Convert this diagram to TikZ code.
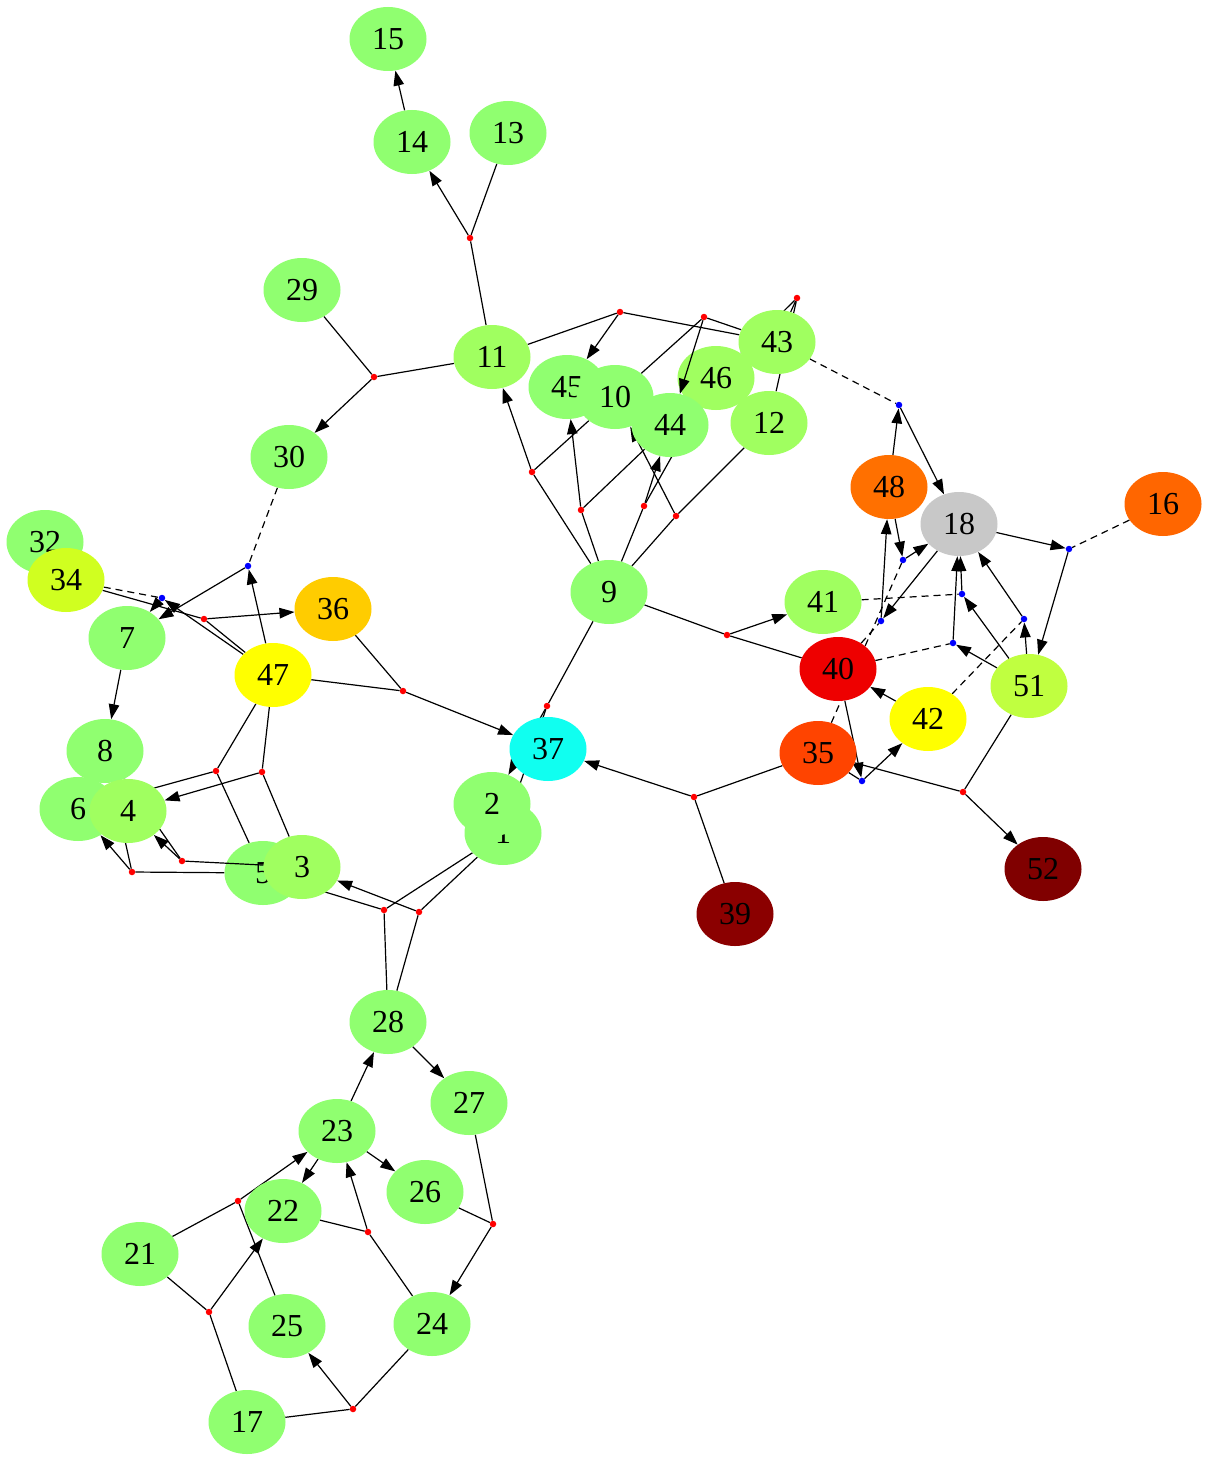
\documentclass[tikz,border=0pt]{standalone}
\usepackage{fontspec}
\setmainfont{Liberation Serif}
\usetikzlibrary{shapes.geometric,arrows.meta}
\pgfdeclarelayer{bgfill}
\pgfdeclarelayer{edges}
\pgfsetlayers{bgfill,edges,main}
\definecolor{cg}{RGB}{144,255,112}
\definecolor{cy}{RGB}{160,255,96}
\definecolor{cfiftyone}{RGB}{192,255,64}
\definecolor{cthirtyfour}{RGB}{208,255,32}
\definecolor{cyel}{RGB}{255,255,0}
\definecolor{cthirtysix}{RGB}{255,204,0}
\definecolor{cfortyeight}{RGB}{255,112,0}
\definecolor{csixteen}{RGB}{255,102,0}
\definecolor{cthirtyfive}{RGB}{255,68,0}
\definecolor{cforty}{RGB}{238,0,0}
\definecolor{cfiftytwo}{RGB}{128,0,0}
\definecolor{cthirtynine}{RGB}{139,0,0}
\definecolor{ceighteen}{RGB}{200,200,200}
\definecolor{cthirtyseven}{RGB}{16,255,240}
\definecolor{jred}{RGB}{255,0,0}
\definecolor{jblue}{RGB}{0,0,255}
\begin{document}
\begin{tikzpicture}[x=1pt,y=-1pt,
 nd/.style={ellipse,minimum width=77pt,minimum height=64pt,inner sep=0pt,fill=#1,font=\fontsize{32}{32}\selectfont},
 rj/.style={circle,fill=jred,inner sep=0pt,minimum size=6.5pt},
 bj/.style={circle,fill=jblue,inner sep=0pt,minimum size=6.5pt},
 ed/.style={line width=1.2pt},
 ar/.style={ed,-{Triangle[length=15pt,width=10.5pt]}},
 dsh/.style={ed,dash pattern=on 7pt off 5pt}]
\begin{pgfonlayer}{bgfill}
\fill[white] (0,0) rectangle (1209,1461);
\end{pgfonlayer}
\useasboundingbox (0,0) rectangle (1209,1461);
% nodes
\node[nd=cg] (n15) at (388,39) {15};
\node[nd=cg] (n14) at (412,142) {14};
\node[nd=cg] (n13) at (508,133) {13};
\node[nd=cg] (n29) at (302,290) {29};
\node[nd=cy] (n11) at (492,357) {11};
\node[nd=cg] (n45) at (567,387) {45};
\node[nd=cg] (n10) at (615,397) {10};
\node[nd=cy] (n46) at (716,378) {46};
\node[nd=cg] (n44) at (670,425) {44};
\node[nd=cy] (n43) at (777,342) {43};
\node[nd=cy] (n12) at (769,423) {12};
\node[nd=cg] (n30) at (289,457) {30};
\node[nd=cfortyeight] (n48) at (889,487) {48};
\node[nd=ceighteen] (n18) at (959,524) {18};
\node[nd=csixteen] (n16) at (1163,504) {16};
\node[nd=cg] (n32) at (45,542) {32};
\node[nd=cthirtyfour] (n34) at (66,580) {34};
\node[nd=cg] (n7) at (127,638) {7};
\node[nd=cthirtysix] (n36) at (333,609) {36};
\node[nd=cg] (n9) at (609,592) {9};
\node[nd=cy] (n41) at (823,602) {41};
\node[nd=cyel] (n47) at (273,675) {47};
\node[nd=cforty] (n40) at (838,669) {40};
\node[nd=cfiftyone] (n51) at (1029,686) {51};
\node[nd=cyel] (n42) at (928,719) {42};
\node[nd=cthirtyseven] (n37) at (548,749) {37};
\node[nd=cthirtyfive] (n35) at (818,753) {35};
\node[nd=cg] (n8) at (105,751) {8};
\node[nd=cg] (n6) at (78,809) {6};
\node[nd=cy] (n4) at (128,811) {4};
\node[nd=cg] (n1) at (503,833) {1};
\node[nd=cg] (n2) at (492,804) {2};
\node[nd=cg] (n5) at (263,873) {5};
\node[nd=cy] (n3) at (302,867) {3};
\node[nd=cfiftytwo] (n52) at (1043,869) {52};
\node[nd=cthirtynine] (n39) at (735,914) {39};
\node[nd=cg] (n28) at (388,1022) {28};
\node[nd=cg] (n27) at (469,1103) {27};
\node[nd=cg] (n23) at (337,1131) {23};
\node[nd=cg] (n26) at (425,1192) {26};
\node[nd=cg] (n22) at (283,1211) {22};
\node[nd=cg] (n21) at (140,1254) {21};
\node[nd=cg] (n25) at (287,1326) {25};
\node[nd=cg] (n24) at (432,1324) {24};
\node[nd=cg] (n17) at (247,1422) {17};
% red junctions
\node[rj] (j1) at (470,238) {};
\node[rj] (j2) at (374,377) {};
\node[rj] (j3) at (620,312) {};
\node[rj] (j4) at (704,317) {};
\node[rj] (j5) at (797,298) {};
\node[rj] (j6) at (532,472) {};
\node[rj] (j7) at (581,510) {};
\node[rj] (j8) at (644,506) {};
\node[rj] (j9) at (676,516) {};
\node[rj] (j10) at (727,635) {};
\node[rj] (j11) at (547,706) {};
\node[rj] (j12) at (403,691) {};
\node[rj] (j13) at (694,797) {};
\node[rj] (j14) at (963,792) {};
\node[rj] (j15) at (204,619) {};
\node[rj] (j16) at (216,771) {};
\node[rj] (j17) at (262,772) {};
\node[rj] (j18) at (182,861) {};
\node[rj] (j19) at (132,872) {};
\node[rj] (j20) at (384,910) {};
\node[rj] (j21) at (419,912) {};
\node[rj] (j22) at (238,1201) {};
\node[rj] (j23) at (368,1232) {};
\node[rj] (j24) at (493,1224) {};
\node[rj] (j25) at (209,1312) {};
\node[rj] (j26) at (353,1409) {};
% blue junctions
\node[bj] (b1) at (899,405) {};
\node[bj] (b2) at (862,781) {};
\node[bj] (b3) at (1024,619) {};
\node[bj] (b4) at (962,594) {};
\node[bj] (b5) at (953,643) {};
\node[bj] (b6) at (881,621) {};
\node[bj] (b7) at (903,560) {};
\node[bj] (b8) at (1069,549) {};
\node[bj] (b9) at (248,566) {};
\node[bj] (b10) at (162,598) {};
\begin{pgfonlayer}{edges}
\draw[ar] (n14) -- (n15);
\draw[ar] (n7) -- (n8);
\draw[ar] (n42) -- (n40);
\draw[ar] (n28) -- (n27);
\draw[ar] (n23) -- (n28);
\draw[ar] (n23) -- (n26);
\draw[ar] (n23) -- (n22);
% red
\draw[ed] (n13) -- (j1); \draw[ed] (n11) -- (j1); \draw[ar] (j1) -- (n14);
\draw[ed] (n29) -- (j2); \draw[ed] (n11) -- (j2); \draw[ar] (j2) -- (n30);
\draw[ed] (n11) -- (j3); \draw[ed] (n43) -- (j3); \draw[ar] (j3) -- (n45);
\draw[ed] (n43) -- (j4); \draw[ed] (n10) -- (j4);
\draw[ed] (n46) -- (j5); \draw[ed] (n12) -- (j5); \draw[ed] (n43) -- (j5);
\draw[ed] (n9) -- (j6); \draw[ed] (n10) -- (j6); \draw[ar] (j6) -- (n11);
\draw[ed] (n9) -- (j7); \draw[ed] (n44) -- (j7); \draw[ar] (j7) -- (n45);
\draw[ed] (n9) -- (j8); \draw[ed] (n46) -- (j8); \draw[ar] (j8) -- (n44);
\draw[ed] (n9) -- (j9); \draw[ed] (n12) -- (j9); \draw[ar] (j9) -- (n10);
\draw[ed] (n9) -- (j10); \draw[ed] (n40) -- (j10); \draw[ar] (j10) -- (n41);
\draw[ed] (n9) -- (j11); \draw[ed] (n1) -- (j11); \draw[ar] (j11) -- (n2);
\draw[ed] (n36) -- (j12); \draw[ed] (n47) -- (j12); \draw[ar] (j12) -- (n37);
\draw[ed] (n35) -- (j13); \draw[ed] (n39) -- (j13); \draw[ar] (j13) -- (n37);
\draw[ed] (n51) -- (j14); \draw[ed] (n35) -- (j14); \draw[ar] (j14) -- (n52);
\draw[ed] (n34) -- (j15); \draw[ed] (n47) -- (j15); \draw[ar] (j15) -- (n36);
\draw[ed] (n47) -- (j16); \draw[ed] (n5) -- (j16); \draw[ar] (j16) -- (n6);
\draw[ed] (n47) -- (j17); \draw[ed] (n3) -- (j17); \draw[ar] (j17) -- (n4);
\draw[ed] (n8) -- (j18); \draw[ar] (j18) -- (n4);
\draw[ed] (n5) -- (j19); \draw[ed] (n8) -- (j19); \draw[ar] (j19) -- (n6);
\draw[ed] (n5) -- (j20); \draw[ed] (n1) -- (j20); \draw[ed] (n28) -- (j20);
\draw[ed] (n1) -- (j21); \draw[ed] (n28) -- (j21); \draw[ar] (j21) -- (n3);
\draw[ed] (n21) -- (j22); \draw[ed] (n25) -- (j22); \draw[ar] (j22) -- (n23);
\draw[ed] (n22) -- (j23); \draw[ed] (n24) -- (j23); \draw[ar] (j23) -- (n23);
\draw[ed] (n26) -- (j24); \draw[ed] (n27) -- (j24); \draw[ar] (j24) -- (n24);
\draw[ed] (n21) -- (j25); \draw[ed] (n17) -- (j25); \draw[ar] (j25) -- (n22);
\draw[ed] (n17) -- (j26); \draw[ed] (n24) -- (j26); \draw[ar] (j26) -- (n25);
% blue
\draw[dsh] (n43) -- (b1); \draw[ar] (n48) -- (b1); \draw[ar] (b1) -- (n18);
\draw[ar] (n40) -- (b2); \draw[ed] (n35) -- (b2); \draw[ar] (b2) -- (n42);
\draw[dsh] (n42) -- (b3); \draw[ar] (n51) -- (b3); \draw[ar] (b3) -- (n18);
\draw[dsh] (n41) -- (b4); \draw[ar] (n51) -- (b4); \draw[ar] (b4) -- (n18);
\draw[dsh] (n40) -- (b5); \draw[ar] (n51) -- (b5); \draw[ar] (b5) -- (n18);
\draw[dsh] (n40) -- (b6); \draw[ar] (n18) -- (b6); \draw[ar] (b6) -- (n48);
\draw[dsh] (n35) -- (b7); \draw[ar] (n48) -- (b7); \draw[ar] (b7) -- (n18);
\draw[dsh] (n16) -- (b8); \draw[ar] (n18) -- (b8); \draw[ar] (b8) -- (n51);
\draw[dsh] (n30) -- (b9); \draw[ar] (n47) -- (b9); \draw[ar] (b9) -- (n7);
\draw[dsh] (n34) -- (b10); \draw[ar] (n47) -- (b10); \draw[ar] (b10) -- (n7);
\end{pgfonlayer}
% edges drawn over some nodes
\draw[ar] (j4) -- (n44);
\draw[ed] (n3) -- (j18);
\end{tikzpicture}
\end{document}
